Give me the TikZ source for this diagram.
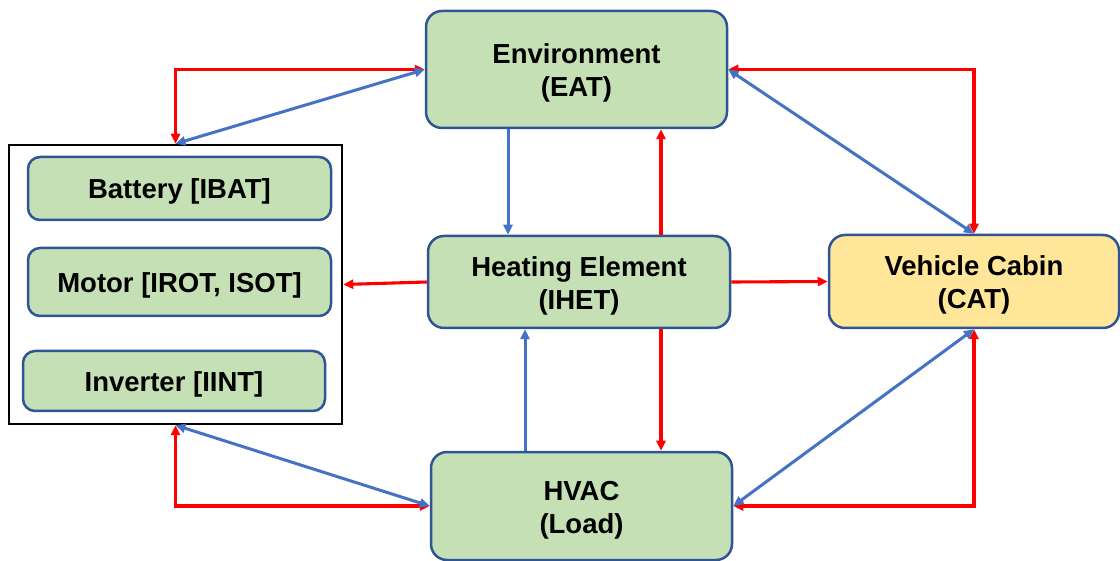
\documentclass[tikz,border=0pt]{standalone}
\usepackage{fontspec}
\setmainfont{Liberation Sans}
\usetikzlibrary{arrows.meta}

\definecolor{boxgreen}{HTML}{C5E0B4}
\definecolor{boxyellow}{HTML}{FFE699}
\definecolor{boxedge}{HTML}{2F5597}
\definecolor{flowblue}{HTML}{4472C4}
\definecolor{flowred}{HTML}{FF0000}

% raises the top line so that two-line labels sit slightly lower
\newcommand{\firstlinelift}{\rule{0pt}{27pt}}

\tikzset{
  boxbase/.style={draw=boxedge, line width=2.5pt,
    fill=boxgreen, align=center, inner sep=0pt,
    font=\fontsize{27.5}{33}\selectfont\bfseries},
  block/.style={boxbase, rounded corners=16pt},
  smallblock/.style={boxbase, rounded corners=12pt,
    execute at begin node=\rule{0pt}{26pt}},
  cabinblock/.style={block, fill=boxyellow},
  group/.style={draw=black, line width=2.5pt, inner sep=0pt},
  heat/.style={draw=flowred, line width=3.1pt},
  power/.style={draw=flowblue, line width=3pt},
  >={Triangle[length=10pt,width=9pt]}
}

\begin{document}
\begin{tikzpicture}[x=1pt, y=-1pt]
\useasboundingbox (0,0) rectangle (1120,561);

% component group on the left
\node[group, minimum width=333pt, minimum height=279pt] (grp) at (175.5,284.5) {};
\node[smallblock, minimum width=303pt, minimum height=63pt] (bat) at (179.5,188.5) {Battery [IBAT]};
\node[smallblock, minimum width=303pt, minimum height=68pt] (mot) at (179.5,282) {Motor [IROT, ISOT]};
\node[smallblock, minimum width=302pt, minimum height=60pt] (inv) at (174,381) {Inverter [IINT]};

% main blocks
\node[block, minimum width=301pt, minimum height=117pt] (env) at (576.5,69.5) {\firstlinelift Environment\\(EAT)};
\node[block, minimum width=302pt, minimum height=92pt] (het) at (579,282) {\firstlinelift Heating Element\\(IHET)};
\node[block, minimum width=301pt, minimum height=108pt] (hvac) at (581.5,506) {\firstlinelift HVAC\\(Load)};
\node[cabinblock, minimum width=290pt, minimum height=93pt] (cab) at (974,281.5) {\firstlinelift Vehicle Cabin\\(CAT)};

% group <-> environment
\draw[heat, <->] (grp.north) |- (env.west);
\draw[power, <->] (grp.north) -- (env.west);

% environment <-> cabin
\draw[heat, <->] (env.east) -| (cab.north);
\draw[power, <->] (env.east) -- (cab.north);

% cabin <-> HVAC
\draw[heat, <->] (cab.south) |- (hvac.east);
\draw[power, <->] (cab.south) -- (hvac.east);

% group <-> HVAC
\draw[heat, <->] (grp.south) |- (hvac.west);
\draw[power, <->] (grp.south) -- (hvac.west);

% vertical flows through the heating element
\draw[power, ->] ([xshift=-68.5pt]env.south) -- ([xshift=-68.5pt]env.south |- het.north);
\draw[heat, ->] ([xshift=82pt]het.north) -- ([xshift=82pt]het.north |- env.south);
\draw[power, ->] ([xshift=-56.5pt]hvac.north) -- ([xshift=-56.5pt]hvac.north |- het.south);
\draw[heat, ->] ([xshift=82pt]het.south) -- ([xshift=82pt]het.south |- hvac.north);

% heating element outputs
\draw[heat, ->] (het.west) -- (grp.east);
\draw[heat, ->] (het.east) -- (cab.west);
\end{tikzpicture}
\end{document}
